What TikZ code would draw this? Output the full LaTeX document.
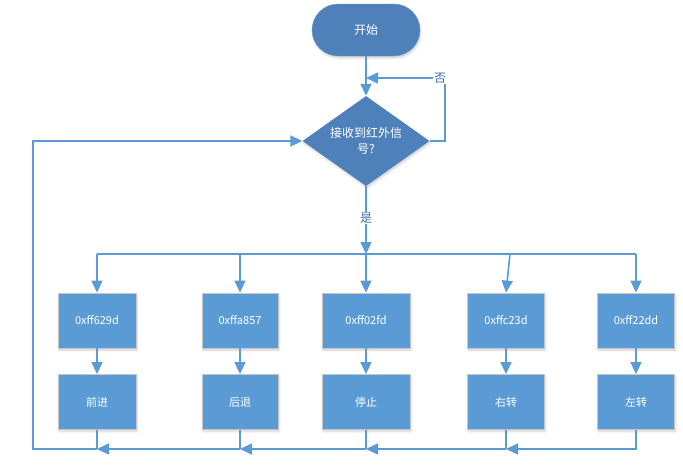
\documentclass[tikz,border=0pt]{standalone}
\usepackage{fontspec}
\setmainfont{Noto Sans CJK SC}
\usetikzlibrary{positioning, arrows.meta, shapes.geometric, shadows.blur}

\definecolor{flowblue}{HTML}{5B9BD5}
\definecolor{darkblue}{HTML}{4E81BA}
\definecolor{labelblue}{HTML}{3F72AF}

\begin{document}
\begin{tikzpicture}[
    x=1pt, y=-1pt,
    procbox/.style={rectangle, draw=gray!45, line width=0.8pt, fill=flowblue, text=white, minimum width=77pt, minimum height=55pt, font=\fontsize{11}{13}\selectfont, blur shadow={shadow xshift=1pt, shadow yshift=-2pt, shadow opacity=18, shadow blur steps=3}},
    startbox/.style={rectangle, rounded corners=26pt, draw=darkblue!80!white, fill=darkblue, text=white, minimum width=108pt, minimum height=52pt, font=\fontsize{12}{14}\selectfont, blur shadow={shadow xshift=1pt, shadow yshift=-2pt, shadow opacity=18, shadow blur steps=3}},
    decbox/.style={diamond, fill=darkblue, text=white, inner sep=0pt, aspect=1.4, minimum width=127pt, minimum height=90pt, align=center, font=\fontsize{12}{16}\selectfont, blur shadow={shadow xshift=1pt, shadow yshift=-2pt, shadow opacity=18, shadow blur steps=3}},
    arr/.style={-{Triangle[length=12pt, width=11pt]}, flowblue, line width=1.6pt},
    line/.style={flowblue, line width=1.6pt},
    lbl/.style={fill=white, text=labelblue, inner sep=1pt, font=\fontsize{12}{14}\selectfont},
]
\useasboundingbox (0,0) rectangle (683,467);

% start and decision
\node[startbox] (start) at (366,30) {开始};
\node[decbox] (recv) at (366,141) {接收到红外信\\号?};

% key codes
\node[procbox, minimum width=78pt] (hexa) at (97,320.5) {0xff629d};
\node[procbox, minimum width=76pt] (hexb) at (240,320.5) {0xffa857};
\node[procbox, minimum width=88pt] (hexc) at (366,320.5) {0xff02fd};
\node[procbox, minimum width=77pt] (hexd) at (506,320.5) {0xffc23d};
\node[procbox, minimum width=77pt] (hexe) at (636,320.5) {0xff22dd};

% actions
\node[procbox, minimum width=78pt] (fwd) at (97,402) {前进};
\node[procbox, minimum width=76pt] (back) at (240,402) {后退};
\node[procbox, minimum width=88pt] (stop) at (366,402) {停止};
\node[procbox, minimum width=77pt] (right) at (506,402) {右转};
\node[procbox, minimum width=77pt] (left) at (636,402) {左转};

% bus points
\coordinate (busc) at (366,254);
\coordinate (busa) at (97,254);
\coordinate (busb) at (240,254);
\coordinate (busd) at (510,254);
\coordinate (buse) at (636,254);
\coordinate (loopr) at (445,78);
\coordinate (loopin) at (366,78);
\coordinate (reta) at (97,449);
\coordinate (retb) at (240,449);
\coordinate (retc) at (366,449);
\coordinate (retd) at (506,449);
\coordinate (rete) at (636,449);
\coordinate (retl) at (33,449);

\draw[arr] (start) -- (recv);
\draw[arr] (recv.east) -| (loopr) -- (loopin);
\node[lbl] (no) at (440,78) {否};

\draw[arr] (recv) -- (busc) node[pos=0.47, lbl] (yes) {是};
\draw[line] (busa) -- (buse);
\draw[arr] (busa) -- (hexa);
\draw[arr] (busb) -- (hexb);
\draw[arr] (busc) -- (hexc);
\draw[arr] (busd) -- (hexd.north);
\draw[arr] (buse) -- (hexe);

\draw[arr] (hexa) -- (fwd);
\draw[arr] (hexb) -- (back);
\draw[arr] (hexc) -- (stop);
\draw[arr] (hexd) -- (right);
\draw[arr] (hexe) -- (left);

% return path
\draw[arr] (left) |- (retd);
\draw[line] (right) -- (retd);
\draw[arr] (retd) -- (retc);
\draw[line] (stop) -- (retc);
\draw[arr] (retc) -- (retb);
\draw[line] (back) -- (retb);
\draw[arr] (retb) -- (reta);
\draw[line] (fwd) -- (reta);
\draw[arr] (reta) -- (retl) |- (recv.west);

\end{tikzpicture}
\end{document}
